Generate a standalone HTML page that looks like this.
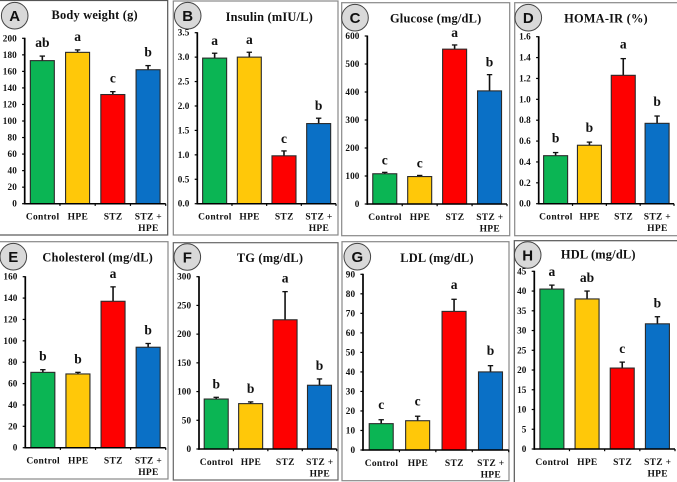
<!DOCTYPE html>
<html lang="en">
<head>
<meta charset="utf-8">
<title>Metabolic parameters panels</title>
<style>
html,body{margin:0;padding:0;background:#fff;}
#chart{display:block;width:677px;height:482px;filter:blur(.3px);}
text{font-family:"Liberation Serif",serif;font-weight:bold;fill:#111;}
.tick{font-size:9.2px;letter-spacing:.1px;}
.cat{font-size:9.5px;letter-spacing:.3px;}
.title{font-size:12.4px;letter-spacing:.2px;}
.sig{font-size:13.5px;}
.badge{font-family:"Liberation Sans",sans-serif;font-size:15px;fill:#111;}
</style>
</head>
<body>
<svg id="chart" xmlns="http://www.w3.org/2000/svg" width="677" height="482" viewBox="0 0 677 482"></svg>
<script>
const groups = ['Control', 'HPE', 'STZ', 'STZ +|HPE'];
const barColors = ['#0bb554', '#ffc809', '#fe0000', '#0a70c6'];

const bodyWeightValues = [173, 183, 132, 162];
const bodyWeightErrorTops = [178.5, 186, 135.5, 167];
const bodyWeightLetters = ['ab', 'a', 'c', 'b'];
const bodyWeightTicks = ['0', '20', '40', '60', '80', '100', '120', '140', '160', '180', '200'];

const insulinValues = [2.98, 3.0, 0.98, 1.64];
const insulinErrorTops = [3.08, 3.1, 1.08, 1.75];
const insulinLetters = ['a', 'a', 'c', 'b'];
const insulinTicks = ['0.0', '0.5', '1.0', '1.5', '2.0', '2.5', '3.0', '3.5'];

const glucoseValues = [108, 98, 553, 404];
const glucoseErrorTops = [113, 102, 568, 462];
const glucoseLetters = ['c', 'c', 'a', 'b'];
const glucoseTicks = ['0', '100', '200', '300', '400', '500', '600'];

const homaValues = [0.46, 0.56, 1.23, 0.77];
const homaErrorTops = [0.49, 0.59, 1.39, 0.84];
const homaLetters = ['b', 'b', 'a', 'b'];
const homaTicks = ['0.0', '0.2', '0.4', '0.6', '0.8', '1.0', '1.2', '1.4', '1.6'];

const cholesterolValues = [70.5, 69, 137, 94];
const cholesterolErrorTops = [73, 70.5, 150.5, 97.5];
const cholesterolLetters = ['b', 'b', 'a', 'b'];
const cholesterolTicks = ['0', '20', '40', '60', '80', '100', '120', '140', '160'];

const tgValues = [87, 79, 225, 111];
const tgErrorTops = [90, 82, 274, 122];
const tgLetters = ['b', 'b', 'a', 'b'];
const tgTicks = ['0', '50', '100', '150', '200', '250', '300'];

const ldlValues = [13.5, 15, 71, 40];
const ldlErrorTops = [15.5, 17.3, 77.2, 43.2];
const ldlLetters = ['c', 'c', 'a', 'b'];
const ldlTicks = ['0', '10', '20', '30', '40', '50', '60', '70', '80', '90'];

const hdlValues = [40.5, 38, 20.5, 31.7];
const hdlErrorTops = [41.5, 40, 22, 33.5];
const hdlLetters = ['a', 'ab', 'c', 'b'];
const hdlTicks = ['0', '5', '10', '15', '20', '25', '30', '35', '40', '45'];

const svg = document.getElementById('chart');
const NS = 'http://www.w3.org/2000/svg';

function make(parent, tag, props, content) {
  const el = document.createElementNS(NS, tag);
  for (const k in props) el.setAttribute(k, props[k]);
  if (content !== undefined) el.textContent = content;
  parent.appendChild(el);
  return el;
}

function drawPanel(p) {
  const id = p.badge.toLowerCase();
  const g = make(svg, 'g', {});
  
  

  const frame = make(g, 'rect', {
    x: p.frame[0], y: p.frame[1], width: p.frame[2] - p.frame[0], height: p.frame[3] - p.frame[1],
    fill: '#fff', stroke: p.frameColor, 'stroke-width': 1.2
  });
  
  

  const maxTick = parseFloat(p.ticks[p.ticks.length - 1]);
  const yScale = v => p.bottom - (v / maxTick) * (p.bottom - p.top);
  const slot = (p.right - p.left) / groups.length;
  const xCenter = i => p.left + slot * (i + 0.5);
  const barW = 24;

  p.values.forEach((v, i) => {
    const cx = xCenter(i);
    const errTop = yScale(p.errorTops[i]);

    const err = make(g, 'line', { x1: cx, x2: cx, y1: yScale(v), y2: errTop, stroke: '#111', 'stroke-width': 1.6 });
    
    

    const cap = make(g, 'line', { x1: cx - 2.7, x2: cx + 2.7, y1: errTop, y2: errTop, stroke: '#111', 'stroke-width': 1.3 });
    
    

    const bar = make(g, 'rect', {
      x: cx - barW / 2, y: yScale(v), width: barW, height: p.bottom - yScale(v),
      fill: barColors[i], stroke: '#2a2a2a', 'stroke-width': 1.1
    });
    
    

    const sig = make(g, 'text', { x: cx, y: errTop - p.gap, 'text-anchor': 'middle', class: 'sig' }, p.letters[i]);
    
    

    const parts = groups[i].split('|');
    parts.forEach((part, n) => {
      const lab = make(g, 'text', {
        x: cx + 0.3, y: p.bottom + 16 + n * 11.4, 'text-anchor': 'middle', class: 'cat'
      }, part);
      
      
    });
  });

  const yAxis = make(g, 'line', { x1: p.left, x2: p.left, y1: p.top - 0.5, y2: p.bottom + 0.8, stroke: '#000', 'stroke-width': 1.7 });
  
  

  const xAxis = make(g, 'line', { x1: p.left - 0.8, x2: p.right, y1: p.bottom, y2: p.bottom, stroke: '#000', 'stroke-width': 1.5 });
  
  

  groups.forEach((_, i) => {
    const tx = p.left + slot * (i + 1);
    const t = make(g, 'line', { x1: tx, x2: tx, y1: p.bottom, y2: p.bottom + 2.2, stroke: '#000', 'stroke-width': 1.2 });
    
    
  });

  p.ticks.forEach(label => {
    const ty = yScale(parseFloat(label));
    const t = make(g, 'line', { x1: p.left - 2.6, x2: p.left, y1: ty, y2: ty, stroke: '#000', 'stroke-width': 1.2 });
    
    

    const lab = make(g, 'text', { x: p.left - 7.8, y: ty + 3, 'text-anchor': 'end', class: 'tick' }, label);
    
    
  });

  const title = make(g, 'text', { x: p.titleAt[0], y: p.titleAt[1], 'text-anchor': 'middle', class: 'title' }, p.title);
  
  

  const circle = make(g, 'circle', { cx: p.badgeAt[0], cy: p.badgeAt[1], r: 13.3, fill: '#d9d9d9', stroke: '#444', 'stroke-width': 1 });
  
  

  const letter = make(g, 'text', { x: p.badgeAt[0], y: p.badgeAt[1] + 5.3, 'text-anchor': 'middle', class: 'badge' }, p.badge);
  
  
}

drawPanel({ badge: 'A', title: 'Body weight (g)', titleAt: [94.7, 19], badgeAt: [14.7, 15.7], frame: [-1, 0.5, 167.7, 235], frameColor: '#555',
  left: 24.7, right: 165.7, top: 38.3, bottom: 203.7, gap: 9, values: bodyWeightValues, errorTops: bodyWeightErrorTops, letters: bodyWeightLetters, ticks: bodyWeightTicks });
drawPanel({ badge: 'B', title: 'Insulin (mIU/L)', titleAt: [269.3, 21], badgeAt: [187.7, 15.7], frame: [173.3, 1, 338, 235], frameColor: '#888',
  left: 197.3, right: 336, top: 32.7, bottom: 203.7, gap: 8, values: insulinValues, errorTops: insulinErrorTops, letters: insulinLetters, ticks: insulinTicks });
drawPanel({ badge: 'C', title: 'Glucose (mg/dL)', titleAt: [435.7, 22.7], badgeAt: [355, 17.7], frame: [341.7, 2.7, 509.7, 235.7], frameColor: '#888',
  left: 367.3, right: 507, top: 36, bottom: 204, gap: 8, values: glucoseValues, errorTops: glucoseErrorTops, letters: glucoseLetters, ticks: glucoseTicks });
drawPanel({ badge: 'D', title: 'HOMA-IR (%)', titleAt: [606, 22.7], badgeAt: [528.3, 17.7], frame: [514.7, 2.7, 678, 235.7], frameColor: '#888',
  left: 538.7, right: 674, top: 36.7, bottom: 203.7, gap: 10, values: homaValues, errorTops: homaErrorTops, letters: homaLetters, ticks: homaTicks });
drawPanel({ badge: 'E', title: 'Cholesterol (mg/dL)', titleAt: [97.7, 261.3], badgeAt: [13.3, 256.7], frame: [-1, 241.7, 168, 479], frameColor: '#888',
  left: 25.3, right: 165.7, top: 276.7, bottom: 447.7, gap: 9, values: cholesterolValues, errorTops: cholesterolErrorTops, letters: cholesterolLetters, ticks: cholesterolTicks });
drawPanel({ badge: 'F', title: 'TG (mg/dL)', titleAt: [270, 262], badgeAt: [187.3, 257], frame: [173.3, 242.7, 338, 480], frameColor: '#666',
  left: 199, right: 336.7, top: 276.7, bottom: 449, gap: 9, values: tgValues, errorTops: tgErrorTops, letters: tgLetters, ticks: tgTicks });
drawPanel({ badge: 'G', title: 'LDL (mg/dL)', titleAt: [437, 262], badgeAt: [357.3, 256.7], frame: [342, 241.7, 509, 480.7], frameColor: '#888',
  left: 363, right: 508.7, top: 274.3, bottom: 450, gap: 10.5, values: ldlValues, errorTops: ldlErrorTops, letters: ldlLetters, ticks: ldlTicks });
drawPanel({ badge: 'H', title: 'HDL (mg/dL)', titleAt: [598.3, 258.3], badgeAt: [527.7, 255], frame: [514.3, 240.7, 678, 483], frameColor: '#555',
  left: 534.3, right: 675, top: 271.3, bottom: 449, gap: 9, values: hdlValues, errorTops: hdlErrorTops, letters: hdlLetters, ticks: hdlTicks });
</script>
</body>
</html>
